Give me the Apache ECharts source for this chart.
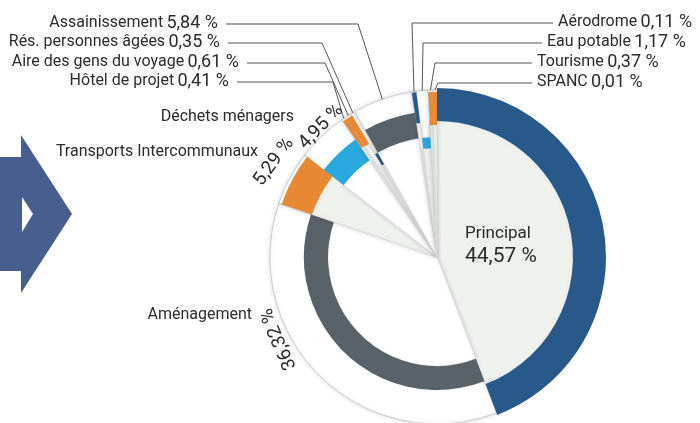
<!DOCTYPE html>
<html>
<head>
<meta charset="utf-8">
<script src="https://cdn.jsdelivr.net/npm/echarts@6/dist/echarts.min.js"></script>
<style>
  html, body { margin: 0; background: #fff; }
  #chart { width: 700px; height: 423px; }
</style>
</head>
<body>
<div id="chart"></div>
<script>
// répartition des budgets (%)
const categories = ['Principal', 'Aménagement', 'Transports Intercommunaux', 'Déchets ménagers',
  'Hôtel de projet', 'Aire des gens du voyage', 'Rés. personnes âgées', 'Assainissement',
  'Aérodrome', 'Eau potable', 'Tourisme', 'SPANC'];
const values = [44.57, 36.32, 5.29, 4.95, 0.41, 0.61, 0.35, 5.84, 0.11, 1.17, 0.37, 0.01];

const FONT = "Roboto, 'DejaVu Sans Condensed', sans-serif";
const TXT = '#2b2b2b';
const BLUE = '#27598b', GREY = '#586268', ORANGE = '#e98833', CYAN = '#29a8de', PALE = '#eef1ed';
const CENTER = [437, 257];
const OUTER = 167;

// anneau de chaque part : remplissage intérieur + couronne colorée
const rings = {
  'Principal': { fill: PALE, r0: 136, r1: 169, color: BLUE },
  'Aménagement': { fill: '#fff', r0: 109, r1: 133, color: GREY },
  'Transports Intercommunaux': { fill: PALE, r0: 132, r1: 164, color: ORANGE },
  'Déchets ménagers': { fill: '#fff', r0: 118, r1: 143, color: CYAN },
  'Hôtel de projet': { fill: PALE, r0: 133, r1: 165, color: ORANGE },
  'Aire des gens du voyage': { fill: PALE, r0: 132, r1: 165, color: ORANGE },
  'Rés. personnes âgées': { fill: PALE, r0: 107, r1: 120, color: BLUE },
  'Assainissement': { fill: '#fff', r0: 120, r1: 146, color: GREY },
  'Aérodrome': { fill: PALE, r0: 135, r1: 166, color: BLUE },
  'Eau potable': { fill: PALE, r0: 109, r1: 120, color: CYAN },
  'Tourisme': { fill: PALE, r0: 132, r1: 165, color: ORANGE },
  'SPANC': { fill: PALE, r0: 132, r1: 165, color: ORANGE }
};

// emplacement des étiquettes
const labelPos = {
  'Assainissement': { x: 218, y: 23, align: 'right', bend: 358 },
  'Rés. personnes âgées': { x: 220, y: 42, align: 'right', bend: 322 },
  'Aire des gens du voyage': { x: 239, y: 62, align: 'right', bend: 325 },
  'Hôtel de projet': { x: 229, y: 81, align: 'right', bend: 333 },
  'Aérodrome': { x: 558, y: 22, align: 'left', bend: 412 },
  'Eau potable': { x: 547, y: 42, align: 'left', bend: 423 },
  'Tourisme': { x: 537, y: 62, align: 'left', bend: 435 },
  'SPANC': { x: 537, y: 82, align: 'left', bend: 438 },
  'Déchets ménagers': { x: 294, y: 117, align: 'right' },
  'Transports Intercommunaux': { x: 258, y: 152, align: 'right' },
  'Aménagement': { x: 252, y: 315, align: 'right' },
  'Principal': { x: 465, y: 246, align: 'left' }
};
const pctPos = {
  'Transports Intercommunaux': { x: 274, y: 162, rotate: 54 },
  'Déchets ménagers': { x: 321, y: 127, rotate: 46 },
  'Aménagement': { x: 279, y: 339, rotate: 113 }
};

const fmt = (v) => v.toFixed(2).replace('.', ',') + ' %';

function pie(radius, itemOf, extra) {
  return Object.assign({
    type: 'pie',
    center: CENTER,
    radius: radius,
    startAngle: 90,
    minAngle: 1.5,
    silent: true,
    animation: false,
    avoidLabelOverlap: false,
    label: { show: false },
    labelLine: { show: false },
    data: categories.map((name, i) => Object.assign({ name: name, value: values[i] }, itemOf(name, i)))
  }, extra || {});
}

const hidden = { itemStyle: { color: 'transparent', borderWidth: 0 } };
const series = [];

// fond blanc des parts (hors Principal) avec ombre et contour gris
series.push(pie([0, OUTER], (name) => name === 'Principal' ? hidden : {
  itemStyle: { color: '#fff', borderColor: '#cccccc', borderWidth: 1, shadowBlur: 5, shadowColor: 'rgba(0,0,0,0.14)' }
}));

categories.forEach((cat) => {
  const r = rings[cat];
  series.push(pie([0, r.r0], (name) => name !== cat ? hidden : {
    itemStyle: { color: r.fill, borderColor: '#dcdcdc', borderWidth: 0.6, shadowBlur: 5, shadowColor: 'rgba(0,0,0,0.15)' }
  }));
  series.push(pie([r.r0, r.r1], (name) => name !== cat ? hidden : {
    itemStyle: { color: r.color }
  }));
});

// étiquettes nom + valeur
series.push(pie([0, OUTER], (name, i) => {
  const pos = labelPos[name];
  const leader = pos.bend != null;
  let text;
  if (name === 'Principal') text = '{n|' + name + '}\n{b|' + fmt(values[i]) + '}';
  else if (leader) text = '{n|' + name + '} {v|' + fmt(values[i]) + '}';
  else text = '{n|' + name + '}';
  return {
    itemStyle: { color: 'transparent' },
    label: {
      show: true,
      position: 'outside',
      formatter: text,
      rich: {
        n: { fontFamily: FONT, fontSize: name === 'Principal' ? 17 : 16, color: TXT, lineHeight: 21 },
        v: { fontFamily: FONT, fontSize: 18, color: TXT },
        b: { fontFamily: FONT, fontSize: 21, color: TXT, lineHeight: 24 }
      }
    },
    labelLine: { show: leader, lineStyle: { color: '#555', width: 1 } }
  };
}, {
  z: 5,
  labelLayout: function (p) {
    const name = categories[p.dataIndex];
    const pos = labelPos[name];
    const out = { x: pos.x, y: pos.y, align: pos.align, verticalAlign: 'middle' };
    if (pos.bend != null && p.labelLinePoints) {
      const edge = pos.align === 'right' ? pos.x + 8 : pos.x - 5;
      out.labelLinePoints = [p.labelLinePoints[0], [pos.bend, pos.y + 1], [edge, pos.y + 1]];
    }
    return out;
  }
}));

// pourcentages écrits le long du cercle
series.push(pie([0, OUTER], (name, i) => pctPos[name] ? {
  itemStyle: { color: 'transparent' },
  label: { show: true, position: 'outside', formatter: fmt(values[i]), fontFamily: FONT, fontSize: 19, color: TXT }
} : { itemStyle: { color: 'transparent' } }, {
  z: 5,
  labelLayout: function (p) {
    const pos = pctPos[categories[p.dataIndex]];
    if (!pos) return {};
    return { x: pos.x, y: pos.y, align: 'center', verticalAlign: 'middle', rotate: pos.rotate };
  }
}));

const chart = echarts.init(document.getElementById('chart'));
chart.setOption({
  backgroundColor: '#fff',
  graphic: [
    {
      type: 'polygon',
      shape: { points: [[0, 157], [21, 157], [21, 135], [72, 214], [21, 293], [21, 271], [0, 271]] },
      style: { fill: '#475e8e' }
    },
    {
      type: 'polygon',
      shape: { points: [[22, 197], [33, 214], [22, 232]] },
      style: { fill: '#fff' }
    }
  ],
  series: series
});
</script>
</body>
</html>
